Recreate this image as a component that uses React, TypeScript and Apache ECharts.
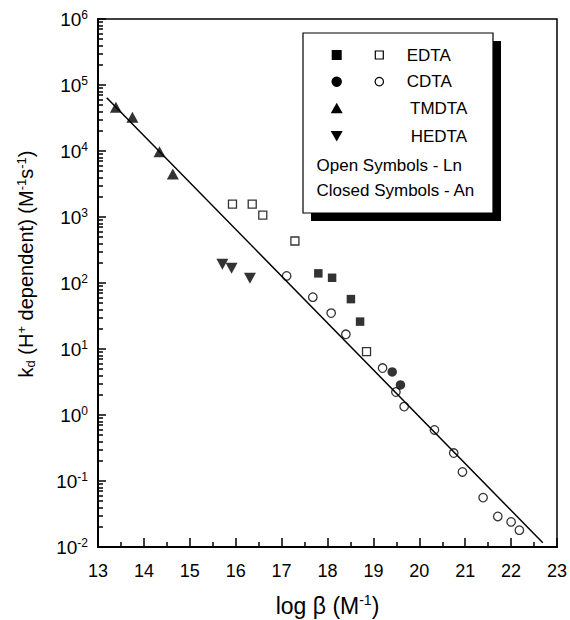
import React, { useEffect, useRef } from "react";
import * as echarts from "echarts";

const FONT = "'Liberation Sans', Arial, Helvetica, sans-serif";

// x = log β, y = kd
const edtaClosedX = [17.8, 18.1, 18.51, 18.71];
const edtaClosedY = [140, 120, 57, 26];
const edtaOpenX = [15.93, 16.36, 16.59, 17.29, 18.85];
const edtaOpenY = [1570, 1570, 1070, 433, 9.1];
const cdtaClosedX = [19.41, 19.59];
const cdtaClosedY = [4.5, 2.85];
const cdtaOpenX = [17.11, 17.68, 18.08, 18.4, 19.2, 19.49, 19.67, 20.33, 20.75, 20.94, 21.39, 21.71, 22.0, 22.18];
const cdtaOpenY = [128, 61, 35, 16.7, 5.15, 2.23, 1.34, 0.593, 0.265, 0.137, 0.056, 0.029, 0.024, 0.018];
const tmdtaX = [13.39, 13.75, 14.34, 14.63];
const tmdtaY = [45900, 32400, 9760, 4480];
const hedtaX = [15.71, 15.91, 16.31];
const hedtaY = [192, 167, 118];
const fitX = [13.19, 22.69];
const fitY = [64300, 0.0116];

const xTicks = [13, 14, 15, 16, 17, 18, 19, 20, 21, 22, 23];
const yDecades = [-2, -1, 0, 1, 2, 3, 4, 5, 6];
const legendRows = ["EDTA", "CDTA", "TMDTA", "HEDTA"];
const legendNotes = ["Open Symbols - Ln", "Closed Symbols - An"];

const zip = (xs: number[], ys: number[]) => xs.map((x, i) => [x, ys[i]]);

export default function App() {
  const ref = useRef<HTMLDivElement>(null);
  useEffect(() => {
    document.body.style.margin = "0";
    const chart = echarts.init(ref.current!, null, { renderer: "svg" });

    const yMinor: number[] = [];
    for (let i = 0; i < yDecades.length - 1; i++) {
      for (let m = 2; m <= 9; m++) yMinor.push(m * Math.pow(10, yDecades[i]));
    }
    const xMinor = xTicks.slice(0, -1).map((t) => t + 0.5);

    const open = { color: "rgba(0,0,0,0)", borderColor: "#000", borderWidth: 1.3 };
    const closed = { color: "#000" };

    const lx = 336.7;
    const lx2 = 379.3;
    const rowsY = [55, 81.7, 108.3, 136];
    const textX = [406.7, 406.7, 410, 410.7];

    const graphic: any[] = [
      { type: "rect", shape: { x: 311, y: 41, width: 190, height: 180 }, style: { fill: "#000" }, z: 100 },
      { type: "rect", shape: { x: 303, y: 33, width: 190, height: 180 }, style: { fill: "#fff", stroke: "#000", lineWidth: 1.2 }, z: 101 },
      { type: "rect", shape: { x: lx - 5, y: rowsY[0] - 5, width: 10, height: 10 }, style: { fill: "#000" }, z: 102 },
      { type: "rect", shape: { x: lx2 - 4, y: rowsY[0] - 4, width: 8, height: 8 }, style: { fill: "none", stroke: "#000", lineWidth: 1.2 }, z: 102 },
      { type: "circle", shape: { cx: lx, cy: rowsY[1], r: 5.2 }, style: { fill: "#000" }, z: 102 },
      { type: "circle", shape: { cx: lx2, cy: rowsY[1], r: 4.2 }, style: { fill: "none", stroke: "#000", lineWidth: 1.2 }, z: 102 },
      { type: "polygon", shape: { points: [[lx, rowsY[2] - 5.5], [lx + 6, rowsY[2] + 5], [lx - 6, rowsY[2] + 5]] }, style: { fill: "#000" }, z: 102 },
      { type: "polygon", shape: { points: [[lx, rowsY[3] + 5.5], [lx + 6, rowsY[3] - 5], [lx - 6, rowsY[3] - 5]] }, style: { fill: "#000" }, z: 102 },
      ...legendRows.map((t, i) => ({
        type: "text", x: textX[i], y: rowsY[i], z: 102,
        style: { text: t, fontSize: 17, fontFamily: FONT, fill: "#000", align: "left", verticalAlign: "middle" },
      })),
      ...legendNotes.map((t, i) => ({
        type: "text", x: 316.5, y: [165, 190][i], z: 102,
        style: { text: t, fontSize: 17, fontFamily: FONT, fill: "#000", align: "left", verticalAlign: "middle" },
      })),
      {
        type: "text", x: 26, y: 264, rotation: Math.PI / 2, z: 102,
        style: {
          text: "{m|k}{sub|d}{m| (H}{sup|+}{m| dependent) (M}{sup|-1}{m|s}{sup|-1}{m|)}",
          align: "center", verticalAlign: "middle", fill: "#000",
          rich: {
            m: { fontSize: 20, fontFamily: FONT, fill: "#000", lineHeight: 22 },
            sub: { fontSize: 13, fontFamily: FONT, fill: "#000", verticalAlign: "bottom", lineHeight: 13 },
            sup: { fontSize: 13, fontFamily: FONT, fill: "#000", verticalAlign: "top", lineHeight: 13 },
          },
        },
      },
    ];

    const tickLine = { color: "#000", width: 1.5 };

    const option: any = {
      animation: false,
      backgroundColor: "#fff",
      grid: { left: 98, right: 13, top: 19, bottom: 73, show: true, borderColor: "#000", borderWidth: 1.5, containLabel: false, outerBoundsMode: "none" },
      xAxis: [
        {
          type: "value", min: xTicks[0], max: xTicks[xTicks.length - 1], interval: 1,
          axisLine: { show: true, onZero: false, lineStyle: { color: "#000", width: 2 } },
          axisTick: { inside: true, length: 9, lineStyle: tickLine },
          splitLine: { show: false },
          axisLabel: { color: "#000", fontSize: 18, fontFamily: FONT, margin: 15 },
          name: "{m|log β (M}{sup|-1}{m|)}",
          nameLocation: "middle", nameGap: 46,
          nameTextStyle: {
            rich: {
              m: { fontSize: 23, fontFamily: FONT, color: "#000", lineHeight: 26 },
              sup: { fontSize: 14, fontFamily: FONT, color: "#000", verticalAlign: "top", lineHeight: 14 },
            },
          },
        },
        {
          type: "value", min: xTicks[0], max: xTicks[xTicks.length - 1], position: "bottom",
          axisLine: { show: false, onZero: false },
          axisTick: { show: true, inside: true, length: 5, lineStyle: tickLine, customValues: xMinor },
          axisLabel: { show: false },
          splitLine: { show: false },
        },
      ],
      yAxis: [
        {
          type: "log", logBase: 10, min: Math.pow(10, yDecades[0]), max: Math.pow(10, yDecades[yDecades.length - 1]), splitNumber: 8,
          axisLine: { show: true, onZero: false, lineStyle: { color: "#000", width: 2 } },
          axisTick: { inside: true, length: 8, lineStyle: tickLine },
          splitLine: { show: false },
          axisLabel: {
            margin: 10,
            formatter: (v: number) => "{b|10}{s|" + Math.round(Math.log10(v)) + "}",
            rich: {
              b: { fontSize: 19, fontFamily: FONT, color: "#000", lineHeight: 20 },
              s: { fontSize: 12, fontFamily: FONT, color: "#000", verticalAlign: "top", lineHeight: 12 },
            },
          },
        },
        {
          type: "log", logBase: 10, min: Math.pow(10, yDecades[0]), max: Math.pow(10, yDecades[yDecades.length - 1]), position: "left",
          axisLine: { show: false, onZero: false },
          axisTick: { show: true, inside: true, length: 5, lineStyle: tickLine, customValues: yMinor },
          axisLabel: { show: false },
          splitLine: { show: false },
        },
      ],
      graphic,
      series: [
        { type: "line", data: zip(fitX, fitY), symbol: "none", lineStyle: { color: "#000", width: 1.5 }, silent: true, z: 2 },
        { type: "scatter", data: zip(edtaClosedX, edtaClosedY), symbol: "rect", symbolSize: 8.5, itemStyle: closed, z: 3 },
        { type: "scatter", data: zip(edtaOpenX, edtaOpenY), symbol: "rect", symbolSize: 8, itemStyle: open, z: 3 },
        { type: "scatter", data: zip(cdtaClosedX, cdtaClosedY), symbol: "circle", symbolSize: 9.5, itemStyle: closed, z: 3 },
        { type: "scatter", data: zip(cdtaOpenX, cdtaOpenY), symbol: "circle", symbolSize: 8.5, itemStyle: open, z: 3 },
        { type: "scatter", data: zip(tmdtaX, tmdtaY), symbol: "triangle", symbolSize: [12, 11], itemStyle: closed, z: 3 },
        { type: "scatter", data: zip(hedtaX, hedtaY), symbol: "triangle", symbolRotate: 180, symbolSize: [12, 11], itemStyle: closed, z: 3 },
      ],
    };
    chart.setOption(option);
    return () => chart.dispose();
  }, []);
  return <div ref={ref} style={{ width: 570, height: 620 }} />;
}
